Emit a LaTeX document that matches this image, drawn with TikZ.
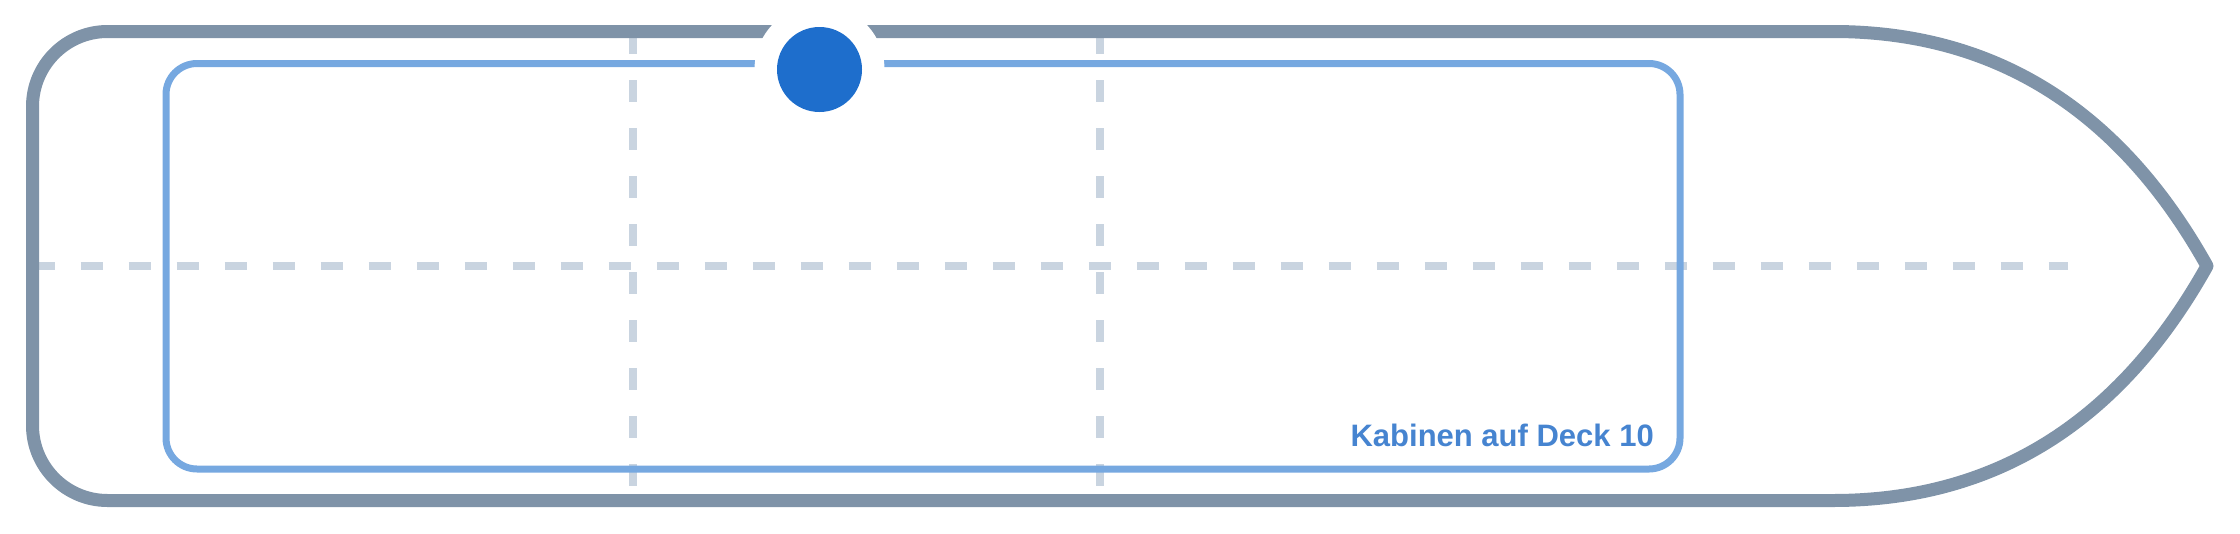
\documentclass[tikz,border=0pt]{standalone}
\usepackage{fontspec}
\setmainfont{Liberation Sans}
\definecolor{hullc}{RGB}{127,147,168}
\definecolor{deckc}{RGB}{118,168,224}
\definecolor{gridc}{RGB}{201,212,224}
\definecolor{dotc}{RGB}{30,110,204}
\definecolor{labelc}{RGB}{70,132,208}
\begin{document}
\begin{tikzpicture}[x=1pt,y=-1pt,
  hull/.style={draw=hullc,line width=13pt,line join=round},
  deck/.style={draw=deckc,line width=7pt,rounded corners=31pt},
  gridline/.style={draw=gridc,line width=8pt,dash pattern=on 22pt off 26pt},
  lbl/.style={text=labelc,font=\bfseries\fontsize{31}{36}\selectfont,inner sep=0pt}]
\useasboundingbox (0,0) rectangle (2240,533);
% grid
\coordinate (hL) at (32.5,266);
\coordinate (hR) at (2068,266);
\coordinate (v1t) at (633,32);
\coordinate (v1b) at (633,500);
\coordinate (v2t) at (1100,32);
\coordinate (v2b) at (1100,500);
\draw[gridline] (hL) -- (hR);
\draw[gridline] (v1t) -- (v1b);
\draw[gridline] (v2t) -- (v2b);
% deck
\draw[deck] (166,63.5) rectangle (1680,469);
% hull
\draw[hull] (1833,31.5) -- (107.5,31.5)
  .. controls (66.1,31.5) and (32.5,65.1) .. (32.5,106.5) -- (32.5,425.5)
  .. controls (32.5,466.9) and (66.1,500.5) .. (107.5,500.5) -- (1833,500.5)
  .. controls (1995,500.5) and (2119.7,422.3) .. (2207,266)
  .. controls (2119.7,109.7) and (1995,31.5) .. (1833,31.5) -- cycle;
% marker
\node (ring) at (819.5,69.5) [circle,fill=white,inner sep=0pt,minimum size=130pt] {};
\node (dot) at (819.5,69.5) [circle,fill=dotc,inner sep=0pt,minimum size=85pt] {};
% label
\node (label) [lbl,anchor=base east] at (1654,446) {Kabinen auf Deck 10};
\end{tikzpicture}
\end{document}
